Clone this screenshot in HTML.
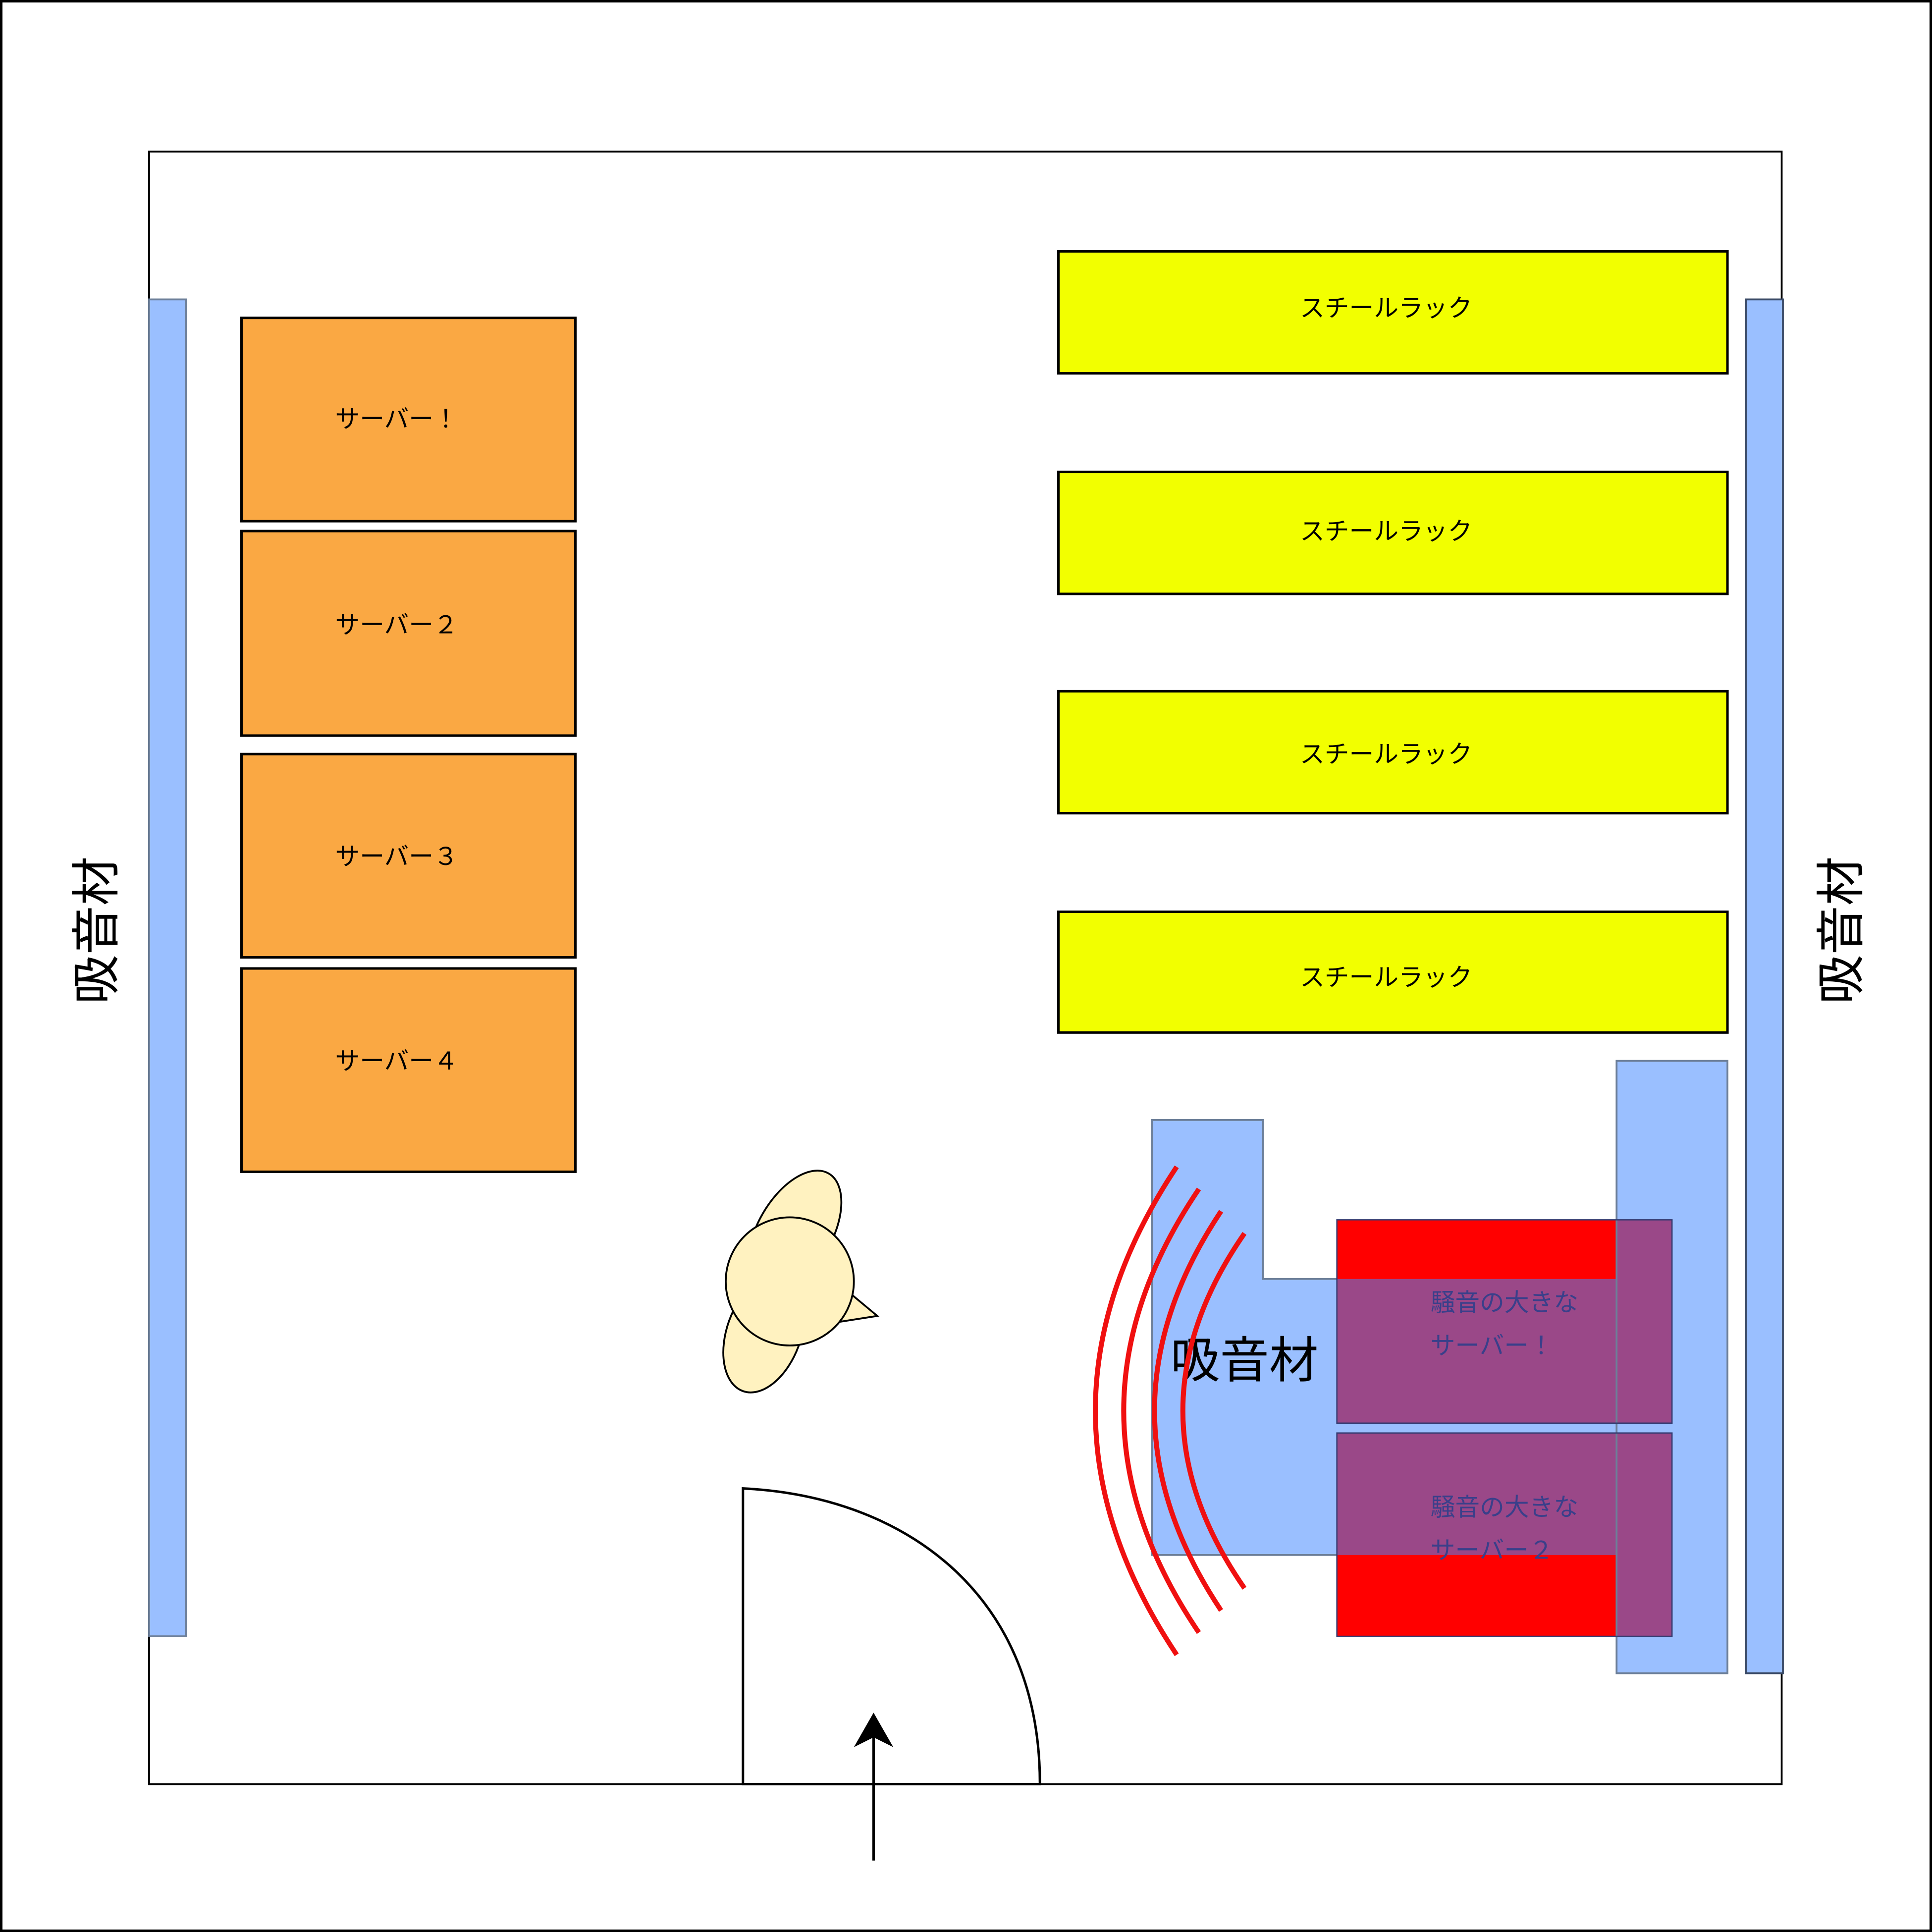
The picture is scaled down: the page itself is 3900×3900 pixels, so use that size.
<!DOCTYPE html>
<html><head><meta charset="utf-8"><style>
html,body{margin:0;padding:0;background:#fff}
svg{display:block}
text{font-family:"Liberation Sans","Noto Sans CJK JP",sans-serif}
</style></head><body>
<svg width="3900" height="3900" viewBox="0 0 1568 1568" xmlns="http://www.w3.org/2000/svg">
<rect x="1" y="1" width="1566" height="1566" fill="#fff" stroke="#000" stroke-width="2"/>
<rect x="121" y="123" width="1325" height="1325" fill="#fff" stroke="#000" stroke-width="1.5"/>
<rect x="121" y="243" width="30" height="1085" fill="#9ABFFF" stroke="#6d7f99" stroke-width="1.5"/>
<rect x="1417" y="243" width="30" height="1115" fill="#9ABFFF" stroke="#3a4a66" stroke-width="1.5"/>
<text transform="translate(92,755) rotate(-90)" font-size="40" text-anchor="middle">吸音材</text>
<text transform="translate(1508,755) rotate(-90)" font-size="40" text-anchor="middle">吸音材</text>
<g fill="#FAA843" stroke="#000" stroke-width="2">
<rect x="196" y="258" width="271" height="165"/>
<rect x="196" y="431" width="271" height="166"/>
<rect x="196" y="612" width="271" height="165"/>
<rect x="196" y="786" width="271" height="165"/>
</g>
<g font-size="20">
<text x="272" y="347">サーバー！</text>
<text x="272" y="514">サーバー２</text>
<text x="272" y="702">サーバー３</text>
<text x="272" y="868">サーバー４</text>
</g>
<g fill="#F2FF00" stroke="#000" stroke-width="2">
<rect x="859" y="204" width="543" height="99"/>
<rect x="859" y="383" width="543" height="99"/>
<rect x="859" y="561" width="543" height="99"/>
<rect x="859" y="740" width="543" height="98"/>
</g>
<g font-size="20" text-anchor="middle">
<text x="1125" y="257">スチールラック</text>
<text x="1125" y="438">スチールラック</text>
<text x="1125" y="619">スチールラック</text>
<text x="1125" y="800">スチールラック</text>
</g>
<path d="M935,909 L1025,909 L1025,1038 L1312,1038 L1312,1262 L935,1262 Z" fill="#9ABFFF"/>
<rect x="1312" y="861" width="90" height="497" fill="#9ABFFF"/>
<rect x="1085" y="990" width="272" height="165" fill="#FF0000"/>
<rect x="1085" y="1163" width="272" height="165" fill="#FF0000"/>
<path d="M1085,1038 L1312,1038 L1312,990 L1357,990 L1357,1155 L1085,1155 Z" fill="#9A4888"/>
<path d="M1085,1163 L1357,1163 L1357,1328 L1312,1328 L1312,1262 L1085,1262 Z" fill="#9A4888"/>
<path d="M1085,1038 L1025,1038 L1025,909 L935,909 L935,1262 L1085,1262" fill="none" stroke="#6d7f99" stroke-width="1.5"/>
<rect x="1312" y="861" width="90" height="497" fill="none" stroke="#6d7f99" stroke-width="1.5"/>
<rect x="1085" y="990" width="272" height="165" fill="none" stroke="#333a70" stroke-width="1"/>
<rect x="1085" y="1163" width="272" height="165" fill="none" stroke="#333a70" stroke-width="1"/>
<g font-size="20" fill="#3a3f8a">
<text x="1161" y="1064">騒音の大きな</text>
<text x="1161" y="1099">サーバー！</text>
<text x="1161" y="1230">騒音の大きな</text>
<text x="1161" y="1265">サーバー２</text>
</g>
<text x="1010" y="1118" font-size="40" text-anchor="middle">吸音材</text>
<g fill="none" stroke="#F01010" stroke-width="4">
<path d="M955,947 Q823,1145 955,1343"/>
<path d="M973,965 Q851,1145 973,1325"/>
<path d="M991,983 Q883,1145 991,1307"/>
<path d="M1010,1001 Q910,1145 1010,1289"/>
</g>
<g fill="#FFF2C0" stroke="#000" stroke-width="1.5">
<polygon points="688,1048 712,1068 680,1073"/>
<ellipse cx="645" cy="1000" rx="30" ry="55" transform="rotate(30 645 1000)"/>
<ellipse cx="620" cy="1082" rx="30" ry="50" transform="rotate(20 620 1082)"/>
<circle cx="641" cy="1040" r="52"/>
</g>
<path d="M603,1208 L603,1448 L844,1448 C844,1290 730,1214 603,1208 Z" fill="#fff" stroke="#000" stroke-width="2"/>
<line x1="709" y1="1510" x2="709" y2="1400" stroke="#000" stroke-width="2"/>
<path d="M709,1390 L725,1418 L709,1410 L693,1418 Z" fill="#000"/>
</svg>
</body></html>
